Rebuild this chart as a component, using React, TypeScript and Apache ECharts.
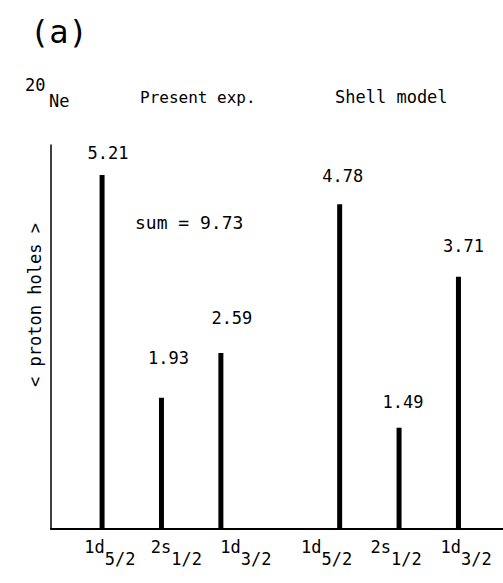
import React, { useEffect, useRef } from "react";
import * as echarts from "echarts";

// ---- data ----
const orbitals = ["1d", "2s", "1d"];
const subshells = ["5/2", "1/2", "3/2"];
const presentExp = [5.21, 1.93, 2.59];
const shellModel = [4.78, 1.49, 3.71];
const groupNames = ["Present exp.", "Shell model"];
const sumText = "sum = 9.73";
const yAxisTitle = "< proton holes >";
const nucleusMass = "20";
const nucleusName = "Ne";
const panelTag = "(a)";

// ---- layout / style helpers ----
const GROUP_OFFSET = 4; // second group sits after one empty slot
const MONO = "'DejaVu Sans Mono', 'Liberation Mono', monospace";
const presentLabelOffsets = [[6, -8], [7, -26], [11, -21]];
const shellLabelOffsets = [[3, -15], [4, -12], [5, -17]];
const tickLabelShift = [0.13, 0.25, 0.42, -0.22, -0.05, 0.13];

export default function App() {
  const ref = useRef<HTMLDivElement>(null);

  useEffect(() => {
    if (!ref.current) return;
    const chart = echarts.init(ref.current, undefined, { renderer: "svg" });

    const positions = [
      ...presentExp.map((_, i) => i),
      ...shellModel.map((_, i) => i + GROUP_OFFSET),
    ];
    const tickLabels = [
      ...orbitals.map((o, i) => ({ o, s: subshells[i] })),
      ...orbitals.map((o, i) => ({ o, s: subshells[i] })),
    ];
    const customValues = positions.map((p, i) => p + tickLabelShift[i]);

    const labelBase = {
      show: true,
      position: "top",
      distance: 5,
      color: "#000",
      fontSize: 17,
      fontFamily: MONO,
      formatter: (p: any) => Number(p.value[1]).toFixed(2),
    };

    const txt = (text: string, x: number, y: number, fontSize: number, extra: any = {}) => ({
      type: "text",
      x,
      y,
      ...extra,
      style: {
        text,
        fontSize,
        fontFamily: MONO,
        fill: "#000",
        verticalAlign: "middle",
        align: extra.align || "left",
      },
    });

    const option: any = {
      animation: false,
      grid: { left: 51, right: 0, top: 145, bottom: 54 },
      xAxis: {
        type: "value",
        min: -0.86,
        max: 6.75,
        axisLine: { show: true, onZero: false, lineStyle: { color: "#000", width: 2 } },
        axisTick: { show: false },
        splitLine: { show: false },
        axisLabel: {
          show: true,
          customValues,
          margin: 9,
          formatter: (v: number) => {
            let idx = 0;
            let best = Infinity;
            customValues.forEach((c, i) => {
              const d = Math.abs(c - v);
              if (d < best) {
                best = d;
                idx = i;
              }
            });
            const t = tickLabels[idx];
            return `{a|${t.o}}{b|${t.s}}`;
          },
          rich: {
            a: { fontSize: 17, fontFamily: MONO, color: "#000", padding: [0, 0, 12, 0] },
            b: { fontSize: 17, fontFamily: MONO, color: "#000", padding: [12, 0, 0, 0] },
          },
        },
      },
      yAxis: {
        type: "value",
        min: 0,
        max: 5.65,
        axisLine: { show: true, onZero: false, lineStyle: { color: "#000", width: 1.5 } },
        axisTick: { show: false },
        axisLabel: { show: false },
        splitLine: { show: false },
      },
      series: [
        {
          type: "bar",
          name: groupNames[0],
          barWidth: 5,
          barGap: "-100%",
          itemStyle: { color: "#000" },
          label: labelBase,
          data: presentExp.map((v, i) => ({
            value: [i, v],
            label: { offset: presentLabelOffsets[i] },
          })),
        },
        {
          type: "bar",
          name: groupNames[1],
          barWidth: 5,
          barGap: "-100%",
          itemStyle: { color: "#000" },
          label: labelBase,
          data: shellModel.map((v, i) => ({
            value: [i + GROUP_OFFSET, v],
            label: { offset: shellLabelOffsets[i] },
          })),
        },
      ],
      graphic: [
        txt(panelTag, 30, 32, 32),
        txt(nucleusMass, 25, 85, 17),
        txt(nucleusName, 49, 101, 17),
        txt(groupNames[0], 140, 97, 16),
        txt(groupNames[1], 335, 97, 17),
        txt(sumText, 135, 222, 18),
        txt(yAxisTitle, 35, 305, 17, { rotation: Math.PI / 2, align: "center" }),
      ],
    };

    chart.setOption(option);
    return () => chart.dispose();
  }, []);

  return (
    <div
      ref={ref}
      style={{ position: "absolute", left: 0, top: 0, width: 503, height: 583, background: "#fff" }}
    />
  );
}
